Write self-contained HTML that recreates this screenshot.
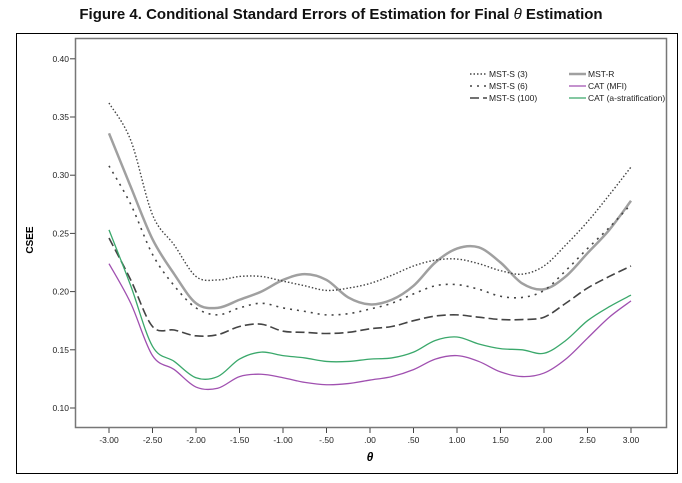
<!DOCTYPE html>
<html><head><meta charset="utf-8"><style>
body{margin:0;background:#fff;}
svg{display:block;font-family:"Liberation Sans",sans-serif;}
</style></head><body>
<svg width="682" height="483" viewBox="0 0 682 483">
<text x="341" y="19" text-anchor="middle" font-size="15" font-weight="bold" fill="#111">Figure 4. Conditional Standard Errors of Estimation for Final <tspan font-style="italic" font-weight="normal">θ</tspan> Estimation</text>
<rect x="16.5" y="33.5" width="661" height="440" fill="none" stroke="#000" stroke-width="1"/>
<rect x="75.5" y="38.5" width="591" height="389" fill="none" stroke="#777" stroke-width="1.5"/>
<g id="axes"></g>
<g id="series"></g>
<text x="33" y="240" transform="rotate(-90 33 240)" text-anchor="middle" font-size="10" font-weight="bold">CSEE</text>
<text x="370" y="461" text-anchor="middle" font-size="12" font-weight="bold" font-style="italic">θ</text>
<g id="legend" font-size="8.5" fill="#222"></g>
</svg>
<script>
const thetas=[-3,-2.75,-2.5,-2.25,-2,-1.75,-1.5,-1.25,-1,-0.75,-0.5,-0.25,0,0.25,0.5,0.75,1,1.25,1.5,1.75,2,2.25,2.5,2.75,3];
const xTicks=[-3,-2.5,-2,-1.5,-1,-0.5,0,0.5,1,1.5,2,2.5,3];
const xTickLabels=["-3.00","-2.50","-2.00","-1.50","-1.00","-.50",".00",".50","1.00","1.50","2.00","2.50","3.00"];
const yTicks=[0.10,0.15,0.20,0.25,0.30,0.35,0.40];
const yTickLabels=["0.10","0.15","0.20","0.25","0.30","0.35","0.40"];
const mstS3=[0.362,0.33,0.266,0.24,0.213,0.21,0.213,0.213,0.209,0.205,0.201,0.203,0.207,0.214,0.222,0.227,0.228,0.224,0.218,0.215,0.222,0.24,0.26,0.283,0.307];
const mstR=[0.336,0.29,0.245,0.215,0.19,0.186,0.193,0.2,0.21,0.215,0.21,0.195,0.189,0.193,0.205,0.225,0.237,0.238,0.225,0.207,0.202,0.213,0.233,0.253,0.278];
const mstS6=[0.308,0.275,0.232,0.205,0.186,0.18,0.186,0.19,0.186,0.183,0.18,0.181,0.185,0.19,0.198,0.205,0.206,0.202,0.196,0.195,0.201,0.218,0.237,0.255,0.275];
const mstS100=[0.246,0.21,0.17,0.167,0.162,0.163,0.17,0.172,0.166,0.165,0.164,0.165,0.168,0.17,0.175,0.179,0.18,0.178,0.176,0.176,0.178,0.19,0.203,0.213,0.222];
const catMFI=[0.224,0.19,0.145,0.133,0.118,0.117,0.127,0.129,0.126,0.122,0.12,0.121,0.124,0.127,0.133,0.142,0.145,0.14,0.131,0.127,0.13,0.142,0.16,0.178,0.192];
const catAS=[0.253,0.205,0.153,0.14,0.126,0.127,0.142,0.148,0.145,0.143,0.14,0.14,0.142,0.143,0.148,0.158,0.161,0.155,0.151,0.15,0.147,0.158,0.175,0.187,0.197];

const NS="http://www.w3.org/2000/svg";
const xS=t=>109+(t+3)*87;
const yS=v=>408-(v-0.10)/0.05*58.2;
function mk(tag,attrs,parent){const e=document.createElementNS(NS,tag);for(const k in attrs)e.setAttribute(k,attrs[k]);parent.appendChild(e);return e;}
const axes=document.getElementById('axes');
xTicks.forEach((t,i)=>{
  const l=mk('line',{x1:xS(t),x2:xS(t),y1:428,y2:433,stroke:'#444'},axes);
  
  
  const tx=mk('text',{x:xS(t),y:443,'text-anchor':'middle','font-size':'8.5',fill:'#222'},axes);
  tx.textContent=xTickLabels[i];
  
  
});
yTicks.forEach((v,i)=>{
  const l=mk('line',{x1:70,x2:75,y1:yS(v),y2:yS(v),stroke:'#444'},axes);
  
  
  const tx=mk('text',{x:69,y:yS(v)+3,'text-anchor':'end','font-size':'8.5',fill:'#222'},axes);
  tx.textContent=yTickLabels[i];
  
  
});
function pathD(vals){
  const p=vals.map((v,i)=>[xS(thetas[i]),yS(v)]);
  let d='M'+p[0][0]+' '+p[0][1];
  for(let i=0;i<p.length-1;i++){
    const p0=p[Math.max(i-1,0)],p1=p[i],p2=p[i+1],p3=p[Math.min(i+2,p.length-1)];
    const c1=[p1[0]+(p2[0]-p0[0])/6,p1[1]+(p2[1]-p0[1])/6];
    const c2=[p2[0]-(p3[0]-p1[0])/6,p2[1]-(p3[1]-p1[1])/6];
    d+=` C${c1[0]} ${c1[1]} ${c2[0]} ${c2[1]} ${p2[0]} ${p2[1]}`;
  }
  return d;
}
const sg=document.getElementById('series');
const specs=[
 [mstR,'#a0a0a0',2.5,'','series-mst-r'],
 [mstS3,'#444',1.4,'1.5 2','series-mst-s3'],
 [mstS6,'#444',1.6,'2 5','series-mst-s6'],
 [mstS100,'#444',1.6,'9 4','series-mst-s100'],
 [catAS,'#3aa86b',1.3,'','series-cat-astrat'],
 [catMFI,'#a050b0',1.3,'','series-cat-mfi']
];
specs.forEach(s=>{
  const p=mk('path',{d:pathD(s[0]),fill:'none',stroke:s[1],'stroke-width':s[2]},sg);
  if(s[3])p.setAttribute('stroke-dasharray',s[3]);
  
  
});
const lg=document.getElementById('legend');
const legendItems=[
 [470,74,'#444',1.4,'1.5 2','MST-S (3)'],
 [470,86,'#444',1.6,'2 5','MST-S (6)'],
 [470,98,'#444',1.6,'9 4','MST-S (100)'],
 [569,74,'#a0a0a0',2.5,'','MST-R'],
 [569,86,'#a050b0',1.3,'','CAT (MFI)'],
 [569,98,'#3aa86b',1.3,'','CAT (a-stratification)']
];
legendItems.forEach(it=>{
  const l=mk('line',{x1:it[0],x2:it[0]+17,y1:it[1],y2:it[1],stroke:it[2],'stroke-width':it[3]},lg);
  if(it[4])l.setAttribute('stroke-dasharray',it[4]);
  
  
  const t=mk('text',{x:it[0]+19,y:it[1]+3},lg);
  t.textContent=it[5];
  
  
});
</script>
</body></html>
